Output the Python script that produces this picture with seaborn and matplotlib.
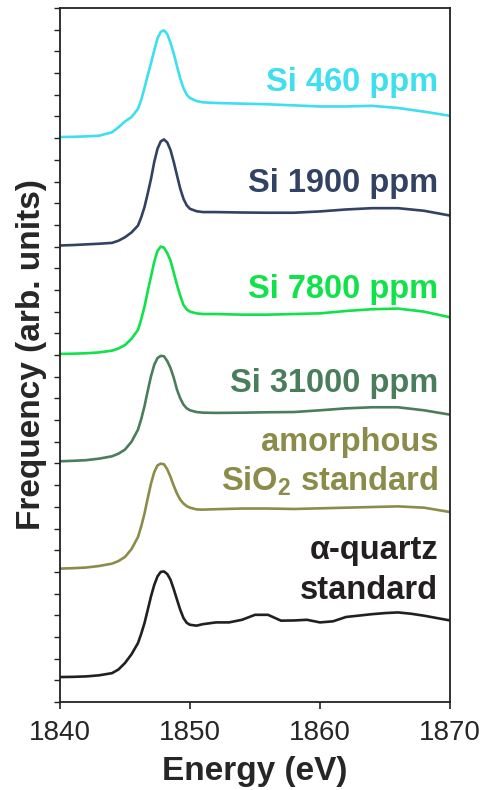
import numpy as np
import pandas as pd
import matplotlib
matplotlib.use("Agg")
import matplotlib.pyplot as plt
import seaborn as sns

# -----------------------------
# DATA
# -----------------------------
energy = [1840, 1841, 1842, 1843, 1844, 1844.5, 1845, 1845.5, 1846,
          1846.25, 1846.5, 1846.75, 1847, 1847.25, 1847.5, 1847.75, 1848,
          1848.25, 1848.5, 1848.75, 1849, 1849.25, 1849.5, 1849.75, 1850,
          1850.5, 1851, 1852, 1854, 1856, 1858, 1860, 1862, 1864, 1866,
          1868, 1870]

si_460 = [0.00, 0.01, 0.03, 0.06, 0.22, 0.45, 0.72, 0.92, 1.30,
          1.72, 2.26, 2.85, 3.41, 4.00, 4.55, 4.85, 4.92,
          4.75, 4.35, 3.85, 3.26, 2.70, 2.25, 1.95, 1.80,
          1.66, 1.60, 1.57, 1.54, 1.51, 1.46, 1.41, 1.41, 1.44, 1.34,
          1.17, 0.98]
si_1900 = [0.00, 0.02, 0.05, 0.08, 0.12, 0.22, 0.38, 0.60, 0.92,
           1.30, 1.77, 2.40, 3.07, 3.85, 4.46, 4.80, 4.89,
           4.75, 4.40, 3.85, 3.23, 2.62, 2.15, 1.85, 1.69,
           1.58, 1.54, 1.54, 1.52, 1.51, 1.51, 1.57, 1.66, 1.72, 1.72,
           1.60, 1.38]
si_7800 = [0.00, 0.01, 0.03, 0.07, 0.15, 0.25, 0.41, 0.70, 1.11,
           1.60, 2.18, 2.90, 3.57, 4.25, 4.75, 4.95, 4.90,
           4.65, 4.30, 3.75, 3.18, 2.68, 2.26, 2.05, 1.95,
           1.87, 1.84, 1.84, 1.81, 1.81, 1.84, 1.87, 1.98, 2.06, 2.09,
           1.95, 1.69]
si_31000 = [0.00, 0.02, 0.05, 0.12, 0.23, 0.35, 0.54, 0.90, 1.46,
            1.95, 2.54, 3.25, 3.92, 4.45, 4.76, 4.86, 4.84,
            4.62, 4.30, 3.85, 3.30, 2.90, 2.61, 2.44, 2.35,
            2.27, 2.24, 2.23, 2.24, 2.26, 2.27, 2.35, 2.44, 2.49, 2.49,
            2.35, 2.15]
amorphous = [0.00, 0.02, 0.05, 0.12, 0.23, 0.35, 0.54, 0.90, 1.46,
             1.95, 2.54, 3.25, 3.92, 4.45, 4.76, 4.84, 4.81,
             4.58, 4.23, 3.82, 3.46, 3.18, 3.00, 2.88, 2.81,
             2.73, 2.72, 2.74, 2.77, 2.77, 2.75, 2.78, 2.81, 2.84, 2.87,
             2.81, 2.61]

# alpha-quartz has more structure past the edge, so it gets its own grid
energy_q = [1840, 1841, 1842, 1843, 1844, 1844.5, 1845, 1845.5, 1846,
            1846.25, 1846.5, 1846.75, 1847, 1847.25, 1847.5, 1847.75, 1848,
            1848.25, 1848.5, 1848.75, 1849, 1849.25, 1849.5, 1849.75, 1850,
            1850.5, 1851, 1852, 1853, 1854, 1855, 1856, 1857, 1858, 1859,
            1860, 1861, 1862, 1864, 1865, 1866, 1867, 1868, 1869, 1870]
quartz = [0.00, 0.01, 0.03, 0.08, 0.18, 0.35, 0.65, 1.05, 1.57,
          2.00, 2.49, 3.10, 3.72, 4.25, 4.64, 4.85, 4.87,
          4.75, 4.49, 4.05, 3.57, 3.10, 2.72, 2.50, 2.41,
          2.37, 2.44, 2.52, 2.52, 2.64, 2.87, 2.87, 2.60, 2.61, 2.64,
          2.52, 2.57, 2.77, 2.90, 2.95, 2.98, 2.92, 2.83, 2.72, 2.61]

offsets = [26.05, 21.05, 16.05, 11.1, 6.15, 1.15]
colors = ["#3EDFEE", "#314262", "#10E24A", "#4A7D5C", "#8C8C4A", "#231F20"]

# -----------------------------
# STYLE
# -----------------------------
sns.set_style("ticks")
plt.rcParams["font.family"] = ["Liberation Sans", "DejaVu Sans"]
plt.rcParams["mathtext.fontset"] = "custom"
plt.rcParams["mathtext.bf"] = "Liberation Sans:bold"
plt.rcParams["mathtext.rm"] = "Liberation Sans"

fig = plt.figure(figsize=(4.81, 7.90), dpi=100)
ax = fig.add_axes([60 / 481, 1 - 702 / 790, 390 / 481, 694 / 790])

# -----------------------------
# SPECTRA
# -----------------------------
series = [
    (energy, si_460),
    (energy, si_1900),
    (energy, si_7800),
    (energy, si_31000),
    (energy, amorphous),
    (energy_q, quartz),
]
for (e, vals), off, c in zip(series, offsets, colors):
    y = np.array(vals) + off
    sns.lineplot(x=e, y=y, color=c, linewidth=1.9, ax=ax, sort=False)

# -----------------------------
# LABELS
# -----------------------------
tx = 1869.1
kw = dict(ha="right", va="center", fontsize=23.5, fontweight="bold")
ax.text(tx, 28.55, "Si 460 ppm", color=colors[0], **kw)
ax.text(tx, 23.9, "Si 1900 ppm", color=colors[1], **kw)
ax.text(tx, 19.0, "Si 7800 ppm", color=colors[2], **kw)
ax.text(tx, 14.7, "Si 31000 ppm", color=colors[3], **kw)
ax.text(tx, 11.95, "amorphous", color=colors[4], **kw)
ax.text(tx, 10.2, r"SiO$_{\mathbf{2}}$ standard", color=colors[4], **kw)
ax.text(tx, 7.0, "α-quartz", color=colors[5], **kw)
ax.text(tx, 5.15, "standard", color=colors[5], **kw)

# -----------------------------
# AXES
# -----------------------------
ax.set_xlim(1840, 1870)
ax.set_ylim(0, 32)
ax.set_xticks([1840, 1850, 1860, 1870])
ax.set_yticks(np.arange(0, 33, 1))
ax.set_yticklabels([])
ax.tick_params(axis="x", labelsize=20, length=5, width=1.2, color="#222222", pad=8)
ax.tick_params(axis="y", length=4, width=1.0, color="#222222")
for s in ax.spines.values():
    s.set_linewidth(1.3)
    s.set_color("#222222")
    s.set_visible(True)

ax.set_xlabel("Energy (eV)", fontsize=24, fontweight="bold", labelpad=7)
ax.set_ylabel("Frequency (arb. units)", fontsize=24, fontweight="bold", labelpad=2)

fig.savefig("out.png", dpi=100)
plt.close(fig)
